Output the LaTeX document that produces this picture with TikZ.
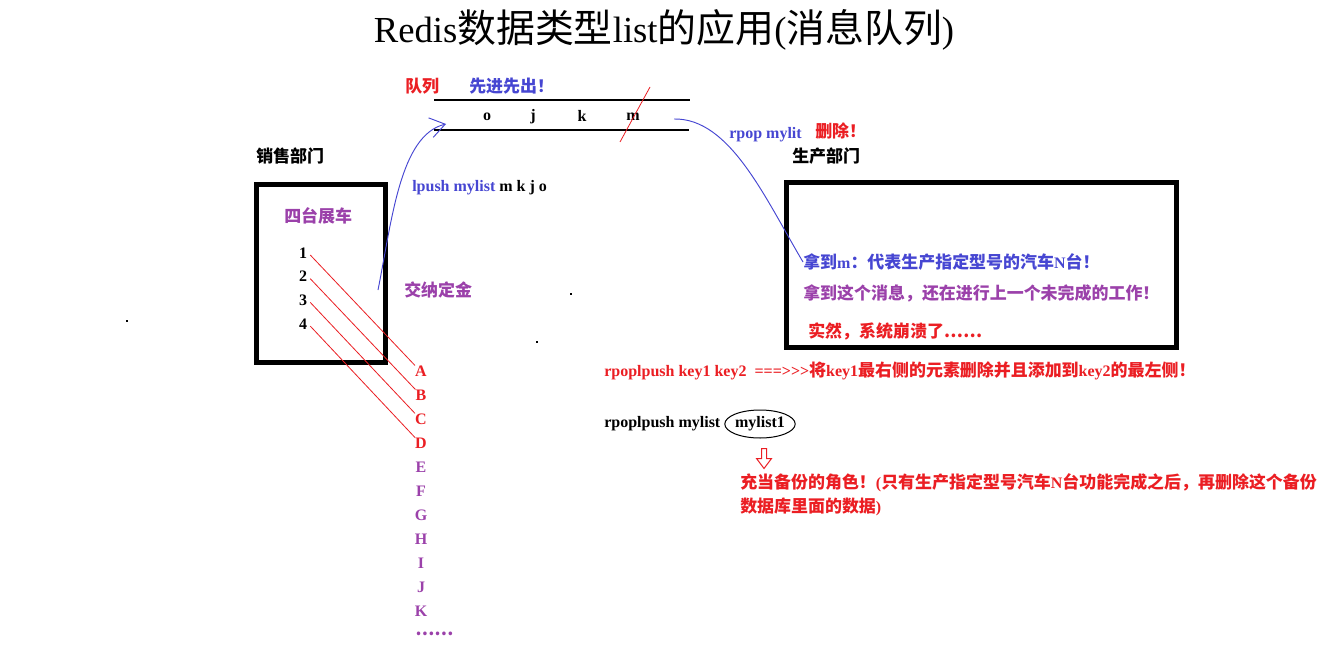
\documentclass[tikz,border=0pt]{standalone}
\usepackage{fontspec}
\setmainfont{Liberation Serif}
\newfontfamily\cjk{Noto Sans CJK SC}[Scale=1.06]
\usetikzlibrary{arrows.meta,calc,shapes.geometric,positioning}
\definecolor{redisRed}{RGB}{235,30,35}
\definecolor{redisBlue}{RGB}{70,70,210}
\definecolor{redisPurple}{RGB}{155,65,170}
\newcommand{\zh}[1]{{\cjk #1}}

\begin{document}
\begin{tikzpicture}[x=0.75pt,y=-0.75pt,font=\fontsize{12}{14}\selectfont\bfseries,
          note/.style={
            anchor=west,
            inner sep=0pt},
          bigBox/.style={
            draw,
            rectangle,
            line width=3.75pt},
          redLine/.style={
            draw=redisRed,
            line width=0.6pt},
          blueLine/.style={
            draw=redisBlue,
            line width=0.7pt},
          letter/.style={
            inner sep=0pt}
          ]
          \useasboundingbox[fill=white] (0,0) rectangle (1344,656);

          \node[font=\fontsize{27.5}{30}\selectfont\mdseries] (title) at (664,30) {Redis\zh{数据类型}list\zh{的应用}(\zh{消息队列})};

          % queue
          \node[note, text=redisRed] (queueName) at (405,86) {\zh{队列}};
          \node[note, text=redisBlue] (fifo) at (469,86) {\zh{先进先出！}};
          \draw[line width=0.9pt] (434,100) -- (690,100);
          \draw[line width=0.9pt] (434,130) -- (689,130);
          \node[letter] (qo) at (487,117) {o};
          \node[letter] (qj) at (533,117) {j};
          \node[letter] (qk) at (582,116) {k};
          \node[letter] (qm) at (633,117) {m};
          \draw[redLine] ($(qm.center)+(17,-30)$) -- ($(qm.center)+(-13,25)$);

          % sales
          \node[bigBox, minimum width=96.75pt, minimum height=133.5pt] (salesBox) at (321,273.5) {};
          \node[note] (salesName) at (256,156) {\zh{销售部门}};
          \node[note, text=redisPurple] (cars) at (284,216) {\zh{四台展车}};
          \foreach \n in {1,...,4}
            \node[letter] (n\n) at (303,253+23.7*\n-23.7) {\n};
          \foreach \l [count=\i from 0] in {A,B,C,D}
            \node[letter, text=redisRed] (l\l) at (421,371+24*\i) {\l};
          \foreach \l [count=\i from 4] in {E,F,G,H,I,J,K}
            \node[letter, text=redisPurple] (l\l) at (421,371+24*\i) {\l};
          \node[note, text=redisPurple] (more) at (415,634) {\zh{……}};
          \foreach \n/\l in {1/A,2/B,3/C,4/D}
            \draw[redLine] ($(n\n.east)+(3,2)$) -- (l\l.north west);
          \node[note, text=redisPurple] (deposit) at (404,290) {\zh{交纳定金}};

          % lpush
          \node[note] (lpush) at (412,188) {\textcolor{redisBlue}{lpush mylist} m k j o};
          \coordinate (pushStart) at (378,290);
          \coordinate (queueIn) at (446,124);
          \draw[blueLine, -{Straight Barb[length=11pt,width=15pt]}] (pushStart) .. controls (392,220) and (400,135) .. (queueIn);

          % production
          \node[bigBox, minimum width=292.5pt, minimum height=123.75pt] (prodBox) at (981.5,265) {};
          \node[note] (prodName) at (792,156) {\zh{生产部门}};
          \node[note, text=redisBlue] (rpop) at (729,135) {rpop mylit};
          \node[note, text=redisRed] (delete) at (815,131) {\zh{删除！}};
          \node[note, text=redisBlue] (take) at (803,262) {\zh{拿到}m\zh{：代表生产指定型号的汽车}N\zh{台！}};
          \node[note, text=redisPurple] (busy) at (803,293) {\zh{拿到这个消息，还在进行上一个未完成的工作！}};
          \node[note, text=redisRed] (crash) at (808,331) {\zh{实然，系统崩溃了……}};
          \coordinate (queueOut) at (674,119);
          \draw[blueLine] (queueOut) .. controls (730,118) and (765,198) .. (take.west);

          % rpoplpush
          \node[note, text=redisRed] (rpoplpush) at (604,371) {rpoplpush key1 key2\ \ ===>\kern0pt>\kern0pt>\zh{将}key1\zh{最右侧的元素删除并且添加到}key2\zh{的最左侧！}};
          \node[note] (cmd) at (604,424) {rpoplpush mylist};
          \node[draw, ellipse, line width=0.75pt, minimum width=47pt, minimum height=21pt, inner sep=0pt] (bak) at (760,424) {mylist1};
          \coordinate (bakTip) at ($(bak.south)+(4,30)$);
          \draw[redisRed, line width=0.75pt] (bakTip) -- ++(-7.5,-10) -- ++(5,0) -- ++(0,-10) -- ++(5,0) -- ++(0,10) -- ++(5,0) -- cycle;
          \node[note, text=redisRed] (backup1) at (740,483) {\zh{充当备份的角色！}(\zh{只有生产指定型号汽车}N\zh{台功能完成之后，再删除这个备份}};
          \node[note, text=redisRed] (backup2) at (740,507) {\zh{数据库里面的数据})};

          % stray dots
          \fill (126,320) rectangle ++(2,2);
          \fill (570,293) rectangle ++(2,2);
          \fill (536,341) rectangle ++(2,2);
        \end{tikzpicture}
\end{document}
